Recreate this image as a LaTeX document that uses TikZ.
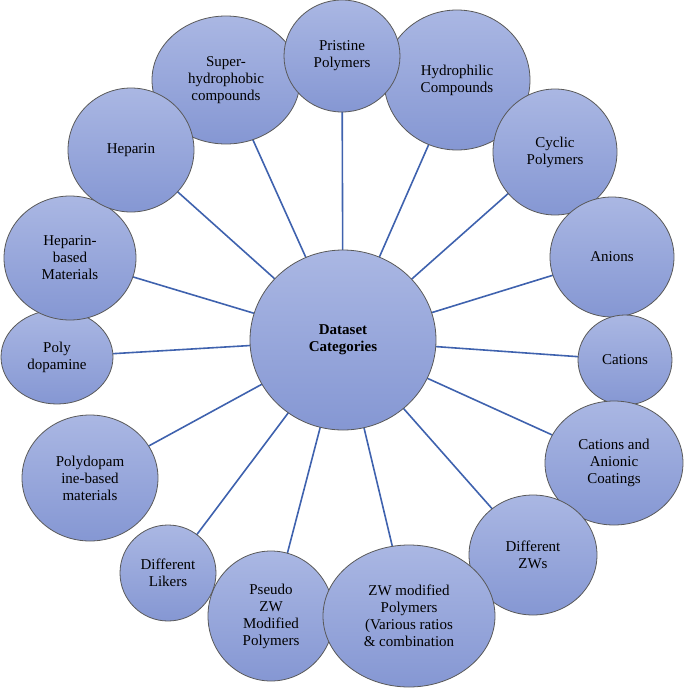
\documentclass[tikz,border=0pt]{standalone}
\usepackage{fontspec}
\setmainfont{Liberation Serif}
\usetikzlibrary{shapes.geometric,backgrounds}
\begin{document}
\begin{tikzpicture}[x=1pt,y=-1pt,
  bub/.style={ellipse,draw=gray!75!black,line width=0.8pt,top color=blue!10!gray!30!cyan!5!blue!0!white!0!bubtop,bottom color=bubbot,inner sep=0pt,align=center,font=\fontsize{15}{17}\selectfont},
  spoke/.style={draw=linec,line width=1.6pt}]
\definecolor{bubtop}{HTML}{AAB7E3}
\definecolor{bubbot}{HTML}{8597D3}
\definecolor{linec}{HTML}{3F62AE}
\tikzset{bub/.style={ellipse,draw=gray!70!black,line width=0.8pt,top color=bubtop,bottom color=bubbot,inner sep=0pt,align=center,font=\fontsize{15}{17}\selectfont}}
\useasboundingbox (0,0) rectangle (685,689);
\newcommand\bb[6]{\node[bub,minimum width=#4*2pt,minimum height=#5*2pt] (#1) at (#2,#3) {#6};}
\bb{c}{343}{340}{93}{90}{\textbf{Dataset}\\\textbf{Categories}}
\bb{s}{226}{80}{74}{64}{Super-\\hydrophobic\\compounds}
\bb{h}{457}{80}{73}{70}{Hydrophilic\\Compounds}
\bb{p}{342}{56}{58}{56}{Pristine\\Polymers}
\bb{cy}{555}{152}{62}{63}{Cyclic\\Polymers}
\bb{an}{612}{257}{62}{60}{Anions}
\bb{ca}{625}{360}{47}{45}{Cations}
\bb{caa}{614}{463}{69}{62}{Cations and\\Anionic\\Coatings}
\bb{dz}{533}{555}{64}{60}{Different\\ZWs}
\bb{ps}{271}{616}{63}{65}{Pseudo\\ZW\\Modified\\Polymers}
\bb{zw}{409}{616}{86}{71}{ZW modified\\Polymers\\(Various ratios\\\& combination}
\bb{dl}{168}{573}{48}{48}{Different\\Likers}
\bb{pd}{90}{478}{68}{63}{Polydopam\\ine-based\\materials}
\bb{po}{57}{357}{56}{47}{Poly\\dopamine}
\bb{hb}{70}{258}{66}{62}{Heparin-\\based\\Materials}
\bb{he}{131}{150}{63}{62}{Heparin}
\begin{scope}[on background layer]
\foreach \t in {s,h,p,cy,an,ca,caa,dz,ps,zw,dl,pd,po,hb,he}
  \draw[spoke] (c.center) -- (\t.center);
\end{scope}
\end{tikzpicture}
\end{document}
